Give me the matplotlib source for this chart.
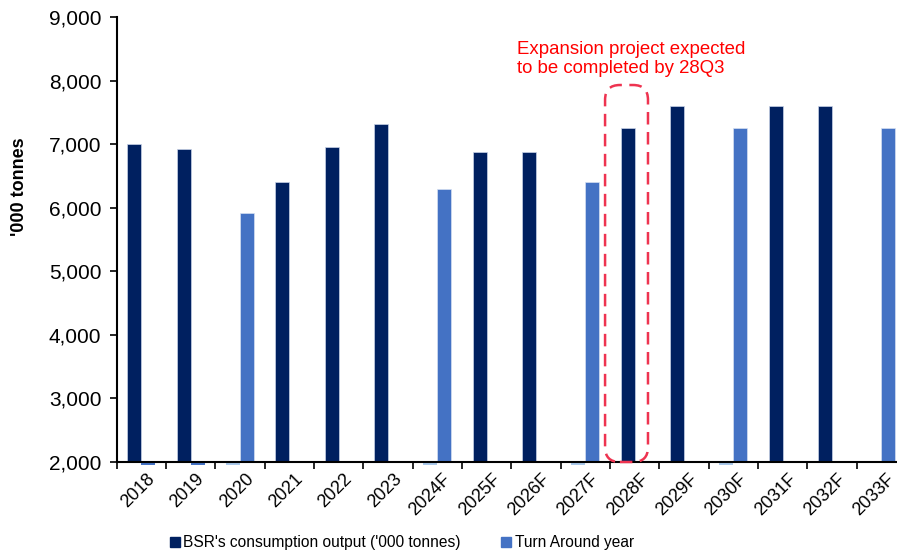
import matplotlib
matplotlib.use("Agg")
import matplotlib.pyplot as plt
from matplotlib.lines import Line2D
from matplotlib.patches import FancyBboxPatch
from matplotlib.ticker import FuncFormatter, FixedLocator
from matplotlib.transforms import ScaledTranslation
import numpy as np

years = ["2018", "2019", "2020", "2021", "2022", "2023", "2024F", "2025F",
         "2026F", "2027F", "2028F", "2029F", "2030F", "2031F", "2032F", "2033F"]
consumption = [7010, 6920, 0, 6410, 6950, 7310, 0, 6880,
               6880, 0, 7250, 7600, 0, 7600, 7600, 0]
turnaround = [0, 0, 5920, 0, 0, 0, 6290, 0,
              0, 6400, 0, 0, 7250, 0, 0, 7250]
# empty slots that still leave a sliver under the axis
stub_consumption = ["2020", "2024F", "2027F", "2030F"]
stub_turnaround = ["2018", "2019"]

NAVY = "#002060"
BLUE = "#4472C4"
PALE = "#A9C8EA"
RED = "#FF0000"
BOX = "#EE3350"

plt.rcParams["font.family"] = ["Liberation Sans", "DejaVu Sans"]

fig = plt.figure(figsize=(8.97, 5.56), dpi=100)
W, H = 897, 556
x0, x1 = 116.7, 116.7 + 16 * 49.33
y0, y1 = 462, 17
ax = fig.add_axes([x0 / W, (H - y0) / H, (x1 - x0) / W, (y0 - y1) / H])

x = np.arange(len(years))
bw = 0.284
base = 2000

cons = np.array(consumption, dtype=float)
ta = np.array(turnaround, dtype=float)
ax.bar(x[cons > 0] - bw / 2, cons[cons > 0] - base, bw, bottom=base,
       color=NAVY, edgecolor="#c9d3e8", linewidth=0.5, zorder=3)
ax.bar(x[ta > 0] + bw / 2, ta[ta > 0] - base, bw, bottom=base,
       color=BLUE, edgecolor="#d5e0f2", linewidth=0.5, zorder=3)

sc = [years.index(y) for y in stub_consumption]
st = [years.index(y) for y in stub_turnaround]
ax.bar(np.array(sc) - bw / 2, -45, bw, bottom=base, color=PALE,
       clip_on=False, zorder=2)
ax.bar(np.array(st) + bw / 2, -45, bw, bottom=base, color=BLUE,
       clip_on=False, zorder=2)

ax.set_xlim(-0.5, len(years) - 0.5)
ax.set_ylim(2000, 9000)
ax.set_yticks(range(2000, 9001, 1000))
ax.yaxis.set_major_formatter(FuncFormatter(lambda v, p: f"{int(v):,}"))
ax.tick_params(axis="y", direction="out", length=5, width=1.2,
               labelsize=15, pad=6)

ax.set_xticks(x)
ax.set_xticklabels(years, rotation=45, ha="right", va="top",
                   rotation_mode="anchor", fontsize=13)
ax.tick_params(axis="x", which="major", length=0, pad=6)
ax.xaxis.set_minor_locator(FixedLocator(np.arange(-0.5, len(years), 1.0)))
ax.tick_params(axis="x", which="minor", direction="out", length=5, width=1.2)
for lbl in ax.get_xticklabels():
    lbl.set_transform(lbl.get_transform() + ScaledTranslation(0.05, 0, fig.dpi_scale_trans))

for side in ["top", "right"]:
    ax.spines[side].set_visible(False)
for side in ["left", "bottom"]:
    ax.spines[side].set_linewidth(1.5)
    ax.spines[side].set_zorder(4)

fig.text(20 / W, 1 - 187 / H, "'000 tonnes", rotation=90, fontsize=13,
         fontweight="bold", ha="center", va="center")

# dashed callout around the 2028F bar
px_per_x = 49.33
px_per_y = (y0 - y1) / 7000
box = FancyBboxPatch((9.4, 2000), 0.87, 5930,
                     boxstyle="round,pad=0,rounding_size=0.3",
                     mutation_aspect=px_per_x / px_per_y,
                     fill=False, edgecolor=BOX, linewidth=1.8,
                     linestyle=(0, (5, 3)), zorder=5, clip_on=False)
ax.add_patch(box)
ax.text(7.62, 8340, "Expansion project expected\nto be completed by 28Q3",
        color=RED, fontsize=13.4, ha="left", va="center", linespacing=1.1)

handles = [
    Line2D([], [], marker="s", linestyle="none", color=NAVY, markersize=6.5),
    Line2D([], [], marker="s", linestyle="none", color=BLUE, markersize=6.5),
]
fig.legend(handles, ["BSR's consumption output ('000 tonnes)", "Turn Around year"],
           loc="center left", bbox_to_anchor=(164 / W, 1 - 543 / H), ncol=2,
           frameon=False, handlelength=0.6, handletextpad=0.25,
           columnspacing=2.6, borderaxespad=0,
           prop={"size": 11.2})

fig.savefig("out.png", dpi=100)
